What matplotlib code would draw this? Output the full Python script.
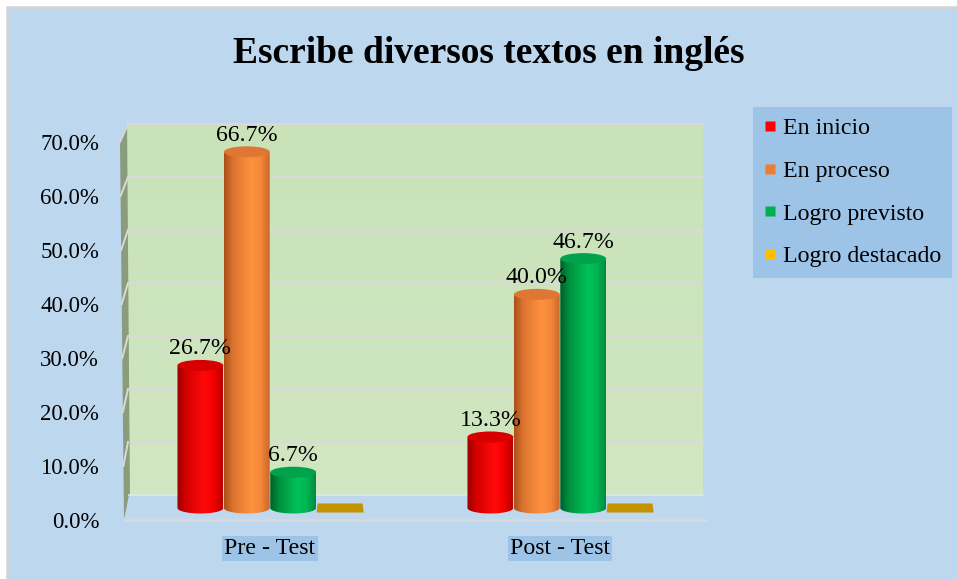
import numpy as np
import matplotlib
matplotlib.use("Agg")
import matplotlib.pyplot as plt
from matplotlib.patches import Rectangle, Polygon, Ellipse, PathPatch
from matplotlib.path import Path
from matplotlib.colors import LinearSegmentedColormap
from matplotlib.lines import Line2D

# ---------------- data ----------------
categories = ["Pre - Test", "Post - Test"]
series_names = ["En inicio", "En proceso", "Logro previsto", "Logro destacado"]
en_inicio = [26.7, 13.3]
en_proceso = [66.7, 40.0]
logro_previsto = [6.7, 46.7]
logro_destacado = [0.0, 0.0]
y_ticks = [0, 10, 20, 30, 40, 50, 60, 70]
y_tick_labels = ["0.0%", "10.0%", "20.0%", "30.0%", "40.0%", "50.0%", "60.0%", "70.0%"]
title = "Escribe diversos textos en inglés"

# ---------------- style ----------------
plt.rcParams["font.family"] = ["Liberation Serif", "DejaVu Serif"]
W, H = 957, 579
FS_TICK = 16.5
FS = 17.2
BG = "#BDD7EE"
LEG_BG = "#9DC3E6"
GRID = "#D9D9D9"
legend_colors = ["#FF0000", "#ED7D31", "#00B050", "#FFC000"]
cyl_maps = [
    ["#9A0000", "#D40000", "#FF0A0A", "#F20000", "#B80000"],
    ["#A85018", "#DC7430", "#FF923E", "#F5873A", "#C8682A"],
    ["#005E28", "#00913F", "#00C258", "#00B552", "#008A3E"],
]
top_colors = ["#D60000", "#E07634", "#00A24B"]
flat_color = "#C39300"

fig = plt.figure(figsize=(W / 100, H / 100), dpi=100)
fig.patch.set_facecolor("white")


def rect(x0, y0, x1, y1):
    return [x0 / W, 1 - y1 / H, (x1 - x0) / W, (y1 - y0) / H]


def fpt(x, y):
    return (x / W, 1 - y / H)


# outer background
fig.add_artist(Rectangle(fpt(7, 600), 1.1, (600 - 7) / H, transform=fig.transFigure,
                         fc=BG, ec="#D4D4D4", lw=1.8, zorder=-10))

# title
fig.text(489 / W, 1 - 63 / H, title, ha="center", va="baseline",
         fontsize=27, fontweight="bold")

# ---------------- back wall ----------------
ax_back = fig.add_axes(rect(128, 124, 703, 495), zorder=1)
ax_back.set_xlim(0, 1)
ax_back.set_ylim(0, 70)
grad = np.linspace(0, 1, 64).reshape(-1, 1)
wall_cmap = LinearSegmentedColormap.from_list("wall", ["#D0E7C2", "#C9E2B8"])
ax_back.imshow(grad, cmap=wall_cmap, extent=(0, 1, 0, 70), aspect="auto",
               origin="lower", zorder=0)
for v in y_ticks[1:]:
    ax_back.axhline(v, color=GRID, lw=1.6, clip_on=False, zorder=1)
ax_back.set_xticks([])
ax_back.set_yticks([])
for s in ax_back.spines.values():
    s.set_visible(False)

# ---------------- front (value axis) ----------------
ax_front = fig.add_axes(rect(120, 124, 705, 520), zorder=0.5)
ax_front.set_ylim(0, (520 - 124) / 5.4)
ax_front.set_xlim(0, 1)
ax_front.set_facecolor("none")
ax_front.set_yticks(y_ticks, y_tick_labels)
ax_front.set_xticks([])
ax_front.tick_params(axis="y", length=0, pad=15, labelsize=FS_TICK)
for s in ax_front.spines.values():
    s.set_visible(False)

# left side wall
wall_poly = Polygon([fpt(120, 141), fpt(127, 124), fpt(130, 495), fpt(124, 520)],
                    closed=True, transform=fig.transFigure, fc="#8A9C7B", ec="none",
                    zorder=1.2)
fig.add_artist(wall_poly)
to_fig = fig.transFigure.inverted()
for v in y_ticks[1:]:
    xb, yb = to_fig.transform(ax_back.transData.transform((0, v)))
    xf, yf = to_fig.transform(ax_front.transData.transform((0, v)))
    xf = xf + (4 / W) * (1 - v / 70)
    fig.add_artist(Line2D([xf, xb], [yf, yb], transform=fig.transFigure,
                          color=GRID, lw=1.4, zorder=1.3))

# floor
floor = Polygon([fpt(129, 495), fpt(703, 495), fpt(706, 520), fpt(124, 520)],
                closed=True, transform=fig.transFigure, fc="#BFD8EE", ec="none",
                zorder=1.4)
fig.add_artist(floor)
fig.add_artist(Line2D([124 / W, 706 / W], [1 - 520 / H, 1 - 520 / H],
                      transform=fig.transFigure, color=GRID, lw=1.8, zorder=1.45))
fig.add_artist(Line2D([129 / W, 703 / W], [1 - 495 / H, 1 - 495 / H],
                      transform=fig.transFigure, color="#DDE9E6", lw=1.2, zorder=1.45))

# ---------------- bars ----------------
ax_bar = fig.add_axes(rect(120, 124, 710, 520), zorder=3)
px_per_unit_y = 5.34
ylim_bar = (-12 / px_per_unit_y, (508 - 124) / px_per_unit_y)
xlim_bar = (0.5 - 150 / 290, 0.5 + 440 / 290)
ax_bar.set_facecolor("none")
for s in ax_bar.spines.values():
    s.set_visible(False)
ax_bar.set_yticks([])

bar_w = 0.158
offsets = [-1.5, -0.5, 0.5, 1.5]
e = 5.5 / px_per_unit_y
gradient = np.linspace(0, 1, 256).reshape(1, -1)


def cylinder(ax, xc, w, v, colors, topcol):
    x0, x1 = xc - w / 2, xc + w / 2
    t = np.linspace(np.pi, 2 * np.pi, 60)
    bx = xc + (w / 2) * np.cos(t)
    by = e * np.sin(t)
    verts = [(x0, v)] + list(zip(bx, by)) + [(x1, v), (x0, v)]
    clip = PathPatch(Path(verts, closed=True), fc="none", ec="none",
                     transform=ax.transData)
    ax.add_patch(clip)
    cmap = LinearSegmentedColormap.from_list(
        "c", list(zip([0, 0.2, 0.6, 0.8, 1.0], colors)))
    im = ax.imshow(gradient, cmap=cmap, extent=(x0, x1, -e, v), aspect="auto",
                   origin="lower", interpolation="bilinear", zorder=2)
    im.set_clip_path(clip)
    ax.add_patch(Ellipse((xc, v), w, 2 * e, fc=topcol, ec="none", zorder=3))


all_series = [en_inicio, en_proceso, logro_previsto, logro_destacado]
for si, vals in enumerate(all_series):
    for ci, v in enumerate(vals):
        xc = ci + 0.5 + offsets[si] * 0.16
        if v > 0:
            cylinder(ax_bar, xc, bar_w, v, cyl_maps[si], top_colors[si])
            ax_bar.annotate(f"{v:.1f}%", (xc, v), xytext=(0, 11),
                            textcoords="offset pixels", ha="center",
                            va="baseline", fontsize=FS, zorder=5)
        else:
            x0, x1 = xc - bar_w / 2, xc + bar_w / 2
            hh = 0.82 * e
            ax_bar.add_patch(Polygon([(x0, v - hh), (x1 + 0.004, v - hh),
                                      (x1, v + hh), (x0 + 0.003, v + hh)],
                                     closed=True, fc=flat_color, ec="none", zorder=2))

ax_bar.set_xlim(*xlim_bar)
ax_bar.set_ylim(*ylim_bar)
ax_bar.set_xticks([0.5, 1.5], categories)
ax_bar.tick_params(axis="x", length=0, pad=13, labelsize=FS)
for lab in ax_bar.get_xticklabels():
    lab.set_bbox(dict(boxstyle="square,pad=0.1", fc=LEG_BG, ec="none"))

# ---------------- legend ----------------
handles = [Line2D([], [], marker="s", ls="none", markersize=7.8,
                  markerfacecolor=c, markeredgecolor="none") for c in legend_colors]
leg = fig.legend(handles, series_names, loc="upper left",
                 bbox_to_anchor=(753 / W, 1 - 107 / H), frameon=True,
                 fancybox=False, facecolor=LEG_BG, edgecolor="none", framealpha=1,
                 fontsize=FS, borderpad=0.45, handlelength=0.52, handletextpad=0.285,
                 labelspacing=0.875, borderaxespad=0)

fig.savefig("out.png", dpi=100, facecolor=fig.get_facecolor())
